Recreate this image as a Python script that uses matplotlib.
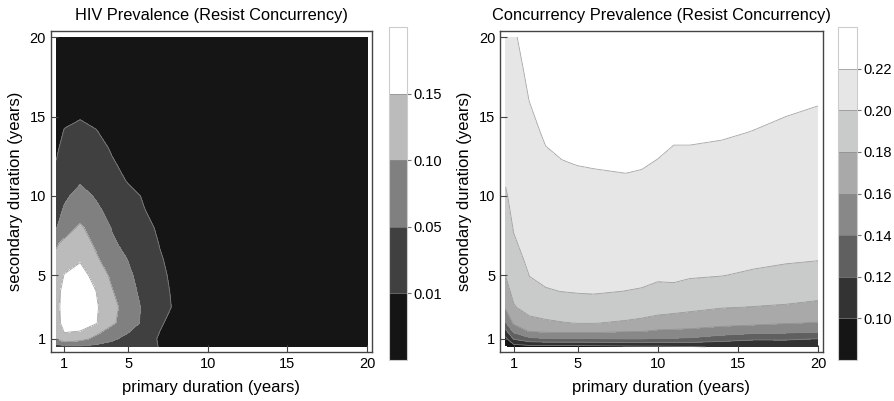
import numpy as np
import matplotlib
matplotlib.use("Agg")
import matplotlib.pyplot as plt

plt.rcParams["font.family"] = ["Liberation Sans", "DejaVu Sans"]

# HIV prevalence, one row per secondary duration, columns = primary durations
hiv_x = [0.5, 1, 2, 3, 4, 5, 6, 7, 8, 9, 10, 12, 14, 16, 18, 20]
hiv_y = [0.5, 1, 2, 3, 4, 5, 6, 7, 8, 9, 10, 11, 12, 13, 14, 15, 16, 18, 20]
hiv_rows = [
    [0.020, 0.035, 0.040, 0.035, 0.030, 0.025, 0.018, 0.009, 0.004, 0.002, 0.001, 0, 0, 0, 0, 0],
    [0.100, 0.138, 0.118, 0.085, 0.058, 0.035, 0.018, 0.008, 0.003, 0.001, 0, 0, 0, 0, 0, 0],
    [0.130, 0.168, 0.182, 0.153, 0.108, 0.075, 0.040, 0.012, 0.004, 0.001, 0, 0, 0, 0, 0, 0],
    [0.132, 0.172, 0.190, 0.156, 0.115, 0.078, 0.042, 0.020, 0.006, 0.002, 0, 0, 0, 0, 0, 0],
    [0.130, 0.168, 0.182, 0.150, 0.103, 0.065, 0.038, 0.018, 0.005, 0.001, 0, 0, 0, 0, 0, 0],
    [0.122, 0.152, 0.170, 0.132, 0.090, 0.058, 0.032, 0.015, 0.004, 0.001, 0, 0, 0, 0, 0, 0],
    [0.110, 0.130, 0.145, 0.107, 0.073, 0.049, 0.028, 0.012, 0.003, 0.001, 0, 0, 0, 0, 0, 0],
    [0.095, 0.110, 0.124, 0.092, 0.055, 0.040, 0.022, 0.009, 0.003, 0.001, 0, 0, 0, 0, 0, 0],
    [0.048, 0.078, 0.108, 0.074, 0.048, 0.033, 0.017, 0.006, 0.002, 0, 0, 0, 0, 0, 0, 0],
    [0.035, 0.056, 0.080, 0.059, 0.038, 0.025, 0.011, 0.004, 0.001, 0, 0, 0, 0, 0, 0, 0],
    [0.025, 0.043, 0.063, 0.046, 0.028, 0.017, 0.008, 0.003, 0.001, 0, 0, 0, 0, 0, 0, 0],
    [0.018, 0.030, 0.045, 0.033, 0.020, 0.008, 0.004, 0.001, 0, 0, 0, 0, 0, 0, 0, 0],
    [0.011, 0.022, 0.034, 0.024, 0.012, 0.005, 0.002, 0, 0, 0, 0, 0, 0, 0, 0, 0],
    [0.007, 0.016, 0.025, 0.017, 0.008, 0.003, 0.001, 0, 0, 0, 0, 0, 0, 0, 0, 0],
    [0.004, 0.011, 0.018, 0.011, 0.004, 0.001, 0, 0, 0, 0, 0, 0, 0, 0, 0, 0],
    [0.002, 0.007, 0.008, 0.006, 0.002, 0.001, 0, 0, 0, 0, 0, 0, 0, 0, 0, 0],
    [0.001, 0.004, 0.005, 0.003, 0.001, 0, 0, 0, 0, 0, 0, 0, 0, 0, 0, 0],
    [0.001, 0.002, 0.002, 0.001, 0, 0, 0, 0, 0, 0, 0, 0, 0, 0, 0, 0],
    [0.001, 0.001, 0.001, 0, 0, 0, 0, 0, 0, 0, 0, 0, 0, 0, 0, 0],
]
hiv_levels = [0, 0.01, 0.05, 0.10, 0.15, 0.20]
hiv_colors = ["#151515", "#404040", "#808080", "#bbbbbb", "#ffffff"]
hiv_ticks = [0.01, 0.05, 0.10, 0.15]

# concurrency prevalence, one column per primary duration, rows = secondary durations
conc_x = [0.5, 1, 2, 3, 4, 5, 6, 8, 9, 10, 11, 12, 14, 16, 18, 20]
conc_y = [0.5, 1, 1.5, 2, 3, 4, 5, 6, 8, 10, 12, 14, 16, 18, 20]
conc_cols = [
    [0.075, 0.094, 0.115, 0.138, 0.163, 0.172, 0.1805, 0.184, 0.191, 0.198, 0.205, 0.210, 0.213, 0.215, 0.216],
    [0.090, 0.121, 0.145, 0.163, 0.178, 0.186, 0.191, 0.195, 0.201, 0.206, 0.210, 0.213, 0.215, 0.217, 0.219],
    [0.092, 0.135, 0.162, 0.172, 0.190, 0.196, 0.2003, 0.203, 0.207, 0.211, 0.214, 0.217, 0.2202, 0.222, 0.2235],
    [0.092, 0.138, 0.164, 0.177, 0.190, 0.199, 0.203, 0.206, 0.210, 0.214, 0.218, 0.2215, 0.2235, 0.225, 0.226],
    [0.092, 0.139, 0.165, 0.179, 0.192, 0.2002, 0.204, 0.207, 0.211, 0.215, 0.2195, 0.223, 0.225, 0.226, 0.227],
    [0.092, 0.139, 0.165, 0.1805, 0.193, 0.201, 0.205, 0.208, 0.212, 0.216, 0.2202, 0.2235, 0.2255, 0.2265, 0.2275],
    [0.093, 0.139, 0.165, 0.1805, 0.193, 0.2015, 0.205, 0.208, 0.212, 0.217, 0.2205, 0.224, 0.226, 0.227, 0.228],
    [0.095, 0.140, 0.162, 0.178, 0.190, 0.1998, 0.205, 0.208, 0.212, 0.2175, 0.221, 0.224, 0.226, 0.227, 0.228],
    [0.096, 0.140, 0.161, 0.176, 0.189, 0.199, 0.2035, 0.207, 0.212, 0.2175, 0.2205, 0.2235, 0.2255, 0.227, 0.228],
    [0.096, 0.138, 0.158, 0.172, 0.188, 0.197, 0.202, 0.206, 0.211, 0.216, 0.2195, 0.2225, 0.2245, 0.226, 0.227],
    [0.097, 0.138, 0.157, 0.171, 0.186, 0.197, 0.2025, 0.205, 0.210, 0.215, 0.2185, 0.221, 0.2235, 0.2255, 0.2265],
    [0.098, 0.137, 0.156, 0.170, 0.184, 0.196, 0.201, 0.205, 0.210, 0.215, 0.2185, 0.221, 0.2235, 0.2255, 0.2265],
    [0.102, 0.128, 0.153, 0.165, 0.181, 0.193, 0.2003, 0.204, 0.209, 0.214, 0.2175, 0.2208, 0.223, 0.2245, 0.2255],
    [0.106, 0.122, 0.148, 0.164, 0.1795, 0.191, 0.198, 0.203, 0.208, 0.213, 0.2165, 0.2198, 0.2225, 0.224, 0.225],
    [0.107, 0.122, 0.146, 0.161, 0.178, 0.189, 0.196, 0.2015, 0.207, 0.212, 0.2155, 0.219, 0.221, 0.2225, 0.2235],
    [0.108, 0.1195, 0.143, 0.159, 0.175, 0.187, 0.194, 0.2005, 0.206, 0.211, 0.2145, 0.2175, 0.2205, 0.222, 0.223],
]
conc_levels = [0.08, 0.10, 0.12, 0.14, 0.16, 0.18, 0.20, 0.22, 0.24]
conc_colors = ["#151515", "#333333", "#606060", "#888888", "#a9a9a9", "#c9cbcb", "#e6e6e6", "#ffffff"]
conc_ticks = [0.10, 0.12, 0.14, 0.16, 0.18, 0.20, 0.22]

fig = plt.figure(figsize=(8.94, 4.01), dpi=100)


def panel(ax_rect, cax_rect, x, y, z, levels, colors, ticks, title):
    ax = fig.add_axes(ax_rect)
    cax = fig.add_axes(cax_rect)
    cf = ax.contourf(x, y, z, levels=levels, colors=colors)
    cs = ax.contour(x, y, z, levels=levels[1:-1], colors="0.55", linewidths=0.6, alpha=0.8)
    ax.set_xlim(0.15, 20.3)
    ax.set_ylim(0.16, 20.4)
    ax.set_xticks([1, 5, 10, 15, 20])
    ax.set_yticks([1, 5, 10, 15, 20])
    ax.tick_params(direction="in", length=5, width=0.8, color="#444444", labelsize=10.5)
    for s in ax.spines.values():
        s.set_color("#444444")
        s.set_linewidth(1.0)
    ax.set_xlabel("primary duration (years)", fontsize=12, labelpad=6)
    ax.set_ylabel("secondary duration (years)", fontsize=12, labelpad=5)
    ax.set_title(title, fontsize=11.8, pad=8)

    cb = fig.colorbar(cf, cax=cax, ticks=ticks)
    cb.add_lines(cs)
    cb.outline.set_edgecolor("0.8")
    cb.outline.set_linewidth(0.8)
    cb.ax.tick_params(direction="out", length=3, width=0.8, color="0.45",
                      labelsize=10.5, pad=1.5)
    cb.ax.set_yticklabels(["%.2f" % t for t in ticks])
    return ax


panel([0.0567, 0.1214, 0.3594, 0.802], [0.4351, 0.1022, 0.0198, 0.830],
      hiv_x, hiv_y, np.array(hiv_rows), hiv_levels, hiv_colors, hiv_ticks,
      "HIV Prevalence (Resist Concurrency)")

panel([0.5593, 0.1214, 0.361, 0.802], [0.9374, 0.1022, 0.0213, 0.830],
      conc_x, conc_y, np.array(conc_cols).T, conc_levels, conc_colors, conc_ticks,
      "Concurrency Prevalence (Resist Concurrency)")

fig.savefig("out.png", dpi=100)
